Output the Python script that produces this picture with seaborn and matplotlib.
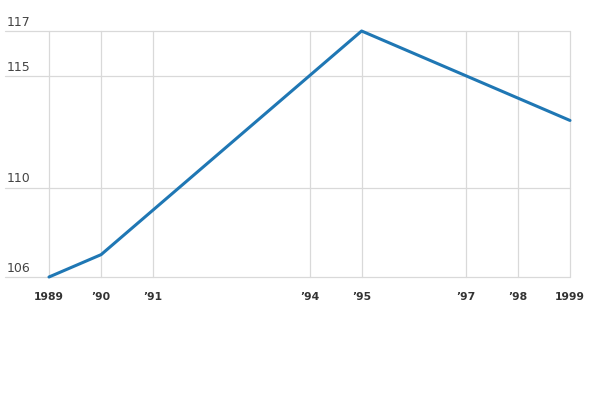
import matplotlib
matplotlib.use("Agg")
import matplotlib.pyplot as plt
import seaborn as sns
import pandas as pd

years = [1989, 1990, 1991, 1994, 1995, 1997, 1998, 1999]
values = [106, 107, 109, 115, 117, 115, 114, 113]
x_labels = ["1989", "\u201990", "\u201991", "\u201994", "\u201995", "\u201997", "\u201998", "1999"]
y_ticks = [106, 110, 115, 117]
y_labels = ["106", "110", "115", "117"]

sns.set_theme(style="white")
plt.rcParams['font.family'] = ['DejaVu Sans']

df = pd.DataFrame({"year": years, "value": values})

fig = plt.figure(figsize=(6, 4), dpi=100)
ax = fig.add_axes([5/600, 1 - 277/400, 565/600, 246/400])

sns.lineplot(data=df, x="year", y="value", ax=ax, color="#1f77b4", linewidth=2.2, clip_on=False)

ax.set_xlim(1989 - 44/52.1, 1999)
ax.set_ylim(106, 117)
for s in ax.spines.values():
    s.set_visible(False)

for y in y_ticks:
    ax.axhline(y, color="#d9d9d9", linewidth=0.9, zorder=0, clip_on=False)
for x in years:
    ax.axvline(x, color="#d9d9d9", linewidth=0.9, zorder=0, clip_on=False)

ax.set_yticks([])
for y, lab in zip(y_ticks, y_labels):
    ax.annotate(lab, xy=(0.003, y), xycoords=("axes fraction", "data"),
                xytext=(0, 1.5), textcoords="offset points",
                ha="left", va="bottom", fontsize=9, color="#444444")

ax.set_xticks(years)
ax.set_xticklabels(x_labels, fontsize=7.8, fontweight="bold", color="#333333")
ax.tick_params(axis="x", length=0, pad=11)
ax.set_xlabel("")
ax.set_ylabel("")

fig.savefig("out.png", dpi=100)
